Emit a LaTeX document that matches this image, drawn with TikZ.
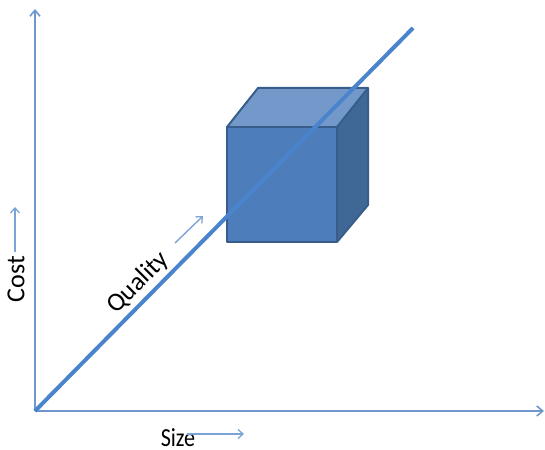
\documentclass[tikz,border=0pt]{standalone}
\usepackage{fontspec}
\setmainfont{Carlito}
\usetikzlibrary{arrows.meta}
\definecolor{axisblue}{HTML}{6F97CD}
\definecolor{lineblue}{HTML}{4A84CC}
\definecolor{frontblue}{HTML}{4E7DBB}
\definecolor{topblue}{HTML}{7399CB}
\definecolor{sideblue}{HTML}{3F6896}
\definecolor{edgeblue}{HTML}{385D8A}
\definecolor{smallarrow}{HTML}{7DA3D6}
\tikzset{
  axis/.style={draw=axisblue, line width=2pt, -{Straight Barb[length=6pt,width=10pt,line width=1.6pt]}},
  hint/.style={draw=smallarrow, line width=1.4pt, -{Straight Barb[length=5pt,width=9pt,line width=1.3pt]}},
  face/.style={draw=edgeblue, line width=2pt, line join=round},
  label/.style={font=\fontsize{26}{28}\selectfont, text=black, inner sep=0pt}
}
\begin{document}
\begin{tikzpicture}[x=1pt,y=-1pt]
\useasboundingbox (0,0) rectangle (545,449);
% coordinates
\coordinate (O) at (35,411);
\coordinate (Ytop) at (35,9);
\coordinate (Xend) at (544,411);
\coordinate (Dend) at (413,28);
% cube
\coordinate (fa) at (227,127);
\coordinate (fb) at (337,127);
\coordinate (fc) at (337,242);
\coordinate (fd) at (227,242);
\coordinate (ba) at (258,88);
\coordinate (bb) at (368,88);
\coordinate (bc) at (368,205);
\fill[frontblue] (fa) -- (fb) -- (fc) -- (fd) -- cycle;
\fill[topblue] (fa) -- (ba) -- (bb) -- (fb) -- cycle;
\fill[sideblue] (fb) -- (bb) -- (bc) -- (fc) -- cycle;
\draw[face] (fa) -- (fb) -- (fc) -- (fd) -- cycle;
\draw[face] (fa) -- (ba) -- (bb) -- (fb);
\draw[face] (bb) -- (bc) -- (fc);
% axes
\draw[axis] (O) -- (Ytop);
\draw[axis] (O) -- (Xend);
% diagonal
\draw[draw=lineblue, line width=4pt] (O) -- (Dend);
% labels
\node[label, rotate=45] (quality) at (138,283) {Quality};
\node[label, rotate=90] (cost) at (16,279) {Cost};
\node[label, xscale=0.85] (size) at (178,438) {Size};
% hint arrows
\coordinate (qa) at (175,243);
\coordinate (qb) at (203,216);
\coordinate (ca) at (15,252);
\coordinate (cb) at (15,207);
\coordinate (sa) at (187,434);
\coordinate (sb) at (244,434);
\draw[hint] (qa) -- (qb);
\draw[hint] (ca) -- (cb);
\draw[hint] (sa) -- (sb);
\end{tikzpicture}
\end{document}
